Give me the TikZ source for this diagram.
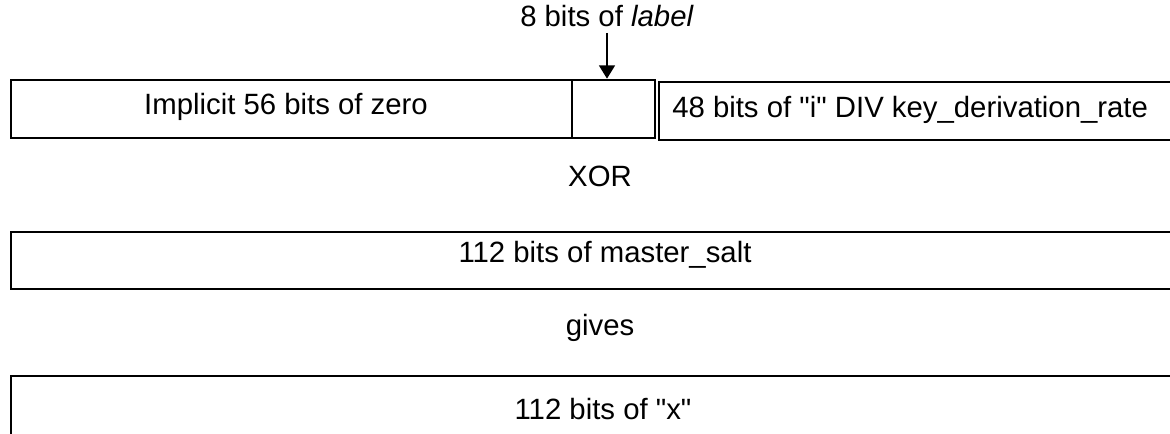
\documentclass[tikz,border=0pt]{standalone}
\usepackage{fontspec}
\setmainfont{Liberation Sans}
\usetikzlibrary{arrows.meta, positioning}

\begin{document}
\begin{tikzpicture}[
    x=0.75pt, y=-0.75pt,
    >={Triangle[width=12pt, length=10pt]},
    % Field box style
    field/.style={rectangle, draw, line width=2pt, minimum height=43.5pt, inner sep=0pt},
    % Text styles
    fieldtext/.style={font=\fontsize{22}{26}\selectfont, inner sep=0pt, anchor=base},
    toplabel/.style={font=\fontsize{22}{26}\selectfont, inner sep=4pt, anchor=base},
    % Pointer arrow style
    pointer/.style={->, line width=1.2pt}
]

    \useasboundingbox (0,0) rectangle (1170,434);
    \clip (0,0) rectangle (1170,434);

    % === TOP ROW ===
    \node[field, minimum width=420.75pt] (zerobox) at (291.5,109) {};
    \node[field, minimum width=62.25pt] (labelbox) at (613.5,109) {};
    \node[field, minimum width=405.75pt] (indexbox) at (929.5,111) {};

    \node[fieldtext] (zerotext) at (286,115) {Implicit 56 bits of zero};
    \node[fieldtext, anchor=base west] (indextext) at (672,118) {48 bits of \textquotedbl i\textquotedbl{} DIV key\_derivation\_rate};

    % Label pointer
    \node[toplabel] (labeltext) at (607,27) {8 bits of \textit{label}};
    \draw[pointer] (labeltext.south) -- (labeltext.south |- labelbox.north);

    % === XOR ===
    \node[fieldtext] (xortext) at (600,187) {XOR};

    % === MASTER SALT ===
    \node[field, minimum width=891pt, minimum height=42.75pt] (saltbox) at (605,260.5) {};
    \node[fieldtext] (salttext) at (605,263) {112 bits of master\_salt};

    % === GIVES ===
    \node[fieldtext] (givestext) at (600,335) {gives};

    % === RESULT ===
    \node[field, minimum width=891pt, minimum height=51pt] (xbox) at (605,410) {};
    \node[fieldtext] (xtext) at (603,419) {112 bits of \textquotedbl x\textquotedbl};

\end{tikzpicture}
\end{document}
